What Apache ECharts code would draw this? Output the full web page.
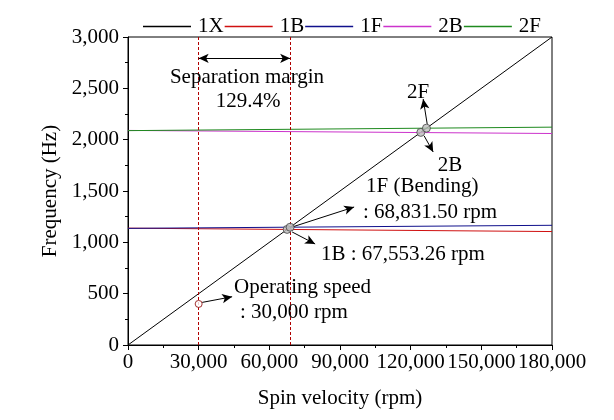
<!DOCTYPE html>
<html><head><meta charset="utf-8">
<script src="https://cdn.jsdelivr.net/npm/echarts@6/dist/echarts.min.js"></script>
<style>html,body{margin:0;padding:0;background:#fff}#c{width:614px;height:420px}</style>
</head><body><div id="c"></div>
<script>
const rpm = [0, 180000];
const s1X = [0, 3000];
const s1B = [1138, 1105];
const s1F = [1136, 1166];
const s2B = [2090, 2060];
const s2F = [2088, 2122];
const seriesNames = ['1X', '1B', '1F', '2B', '2F'];
const seriesColors = ['#000000', '#d01010', '#10108c', '#cc33cc', '#1f8a1f'];
const seriesValues = [s1X, s1B, s1F, s2B, s2F];
const crossPoints = [[67553.26, 1126], [68831.5, 1147], [124300, 2071], [126700, 2112]];
const operatingPoint = [[30000, 400]];
const operatingSpeed = 30000;
const bendingSpeed = 68831.5;
const marginY = 2792;

const FONT = 'Liberation Serif';
const FS = 21;
const fmt = v => Math.round(v).toLocaleString('en-US');

const chart = echarts.init(document.getElementById('c'), null, {renderer: 'canvas'});

const lineSeries = seriesNames.map((n, i) => ({
  name: n, type: 'line', symbol: 'none', silent: true,
  data: rpm.map((x, k) => [x, seriesValues[i][k]]),
  lineStyle: {color: seriesColors[i], width: 1},
  itemStyle: {color: seriesColors[i]},
  z: 2
}));

const arrowStyle = {color: '#000', width: 1, type: 'solid'};
function arrow(a, b) {
  return [{coord: a}, {coord: b}];
}
lineSeries[0].markLine = {
  silent: true, animation: false, label: {show: false},
  symbol: ['none', 'arrow'], symbolSize: [7, 10],
  lineStyle: arrowStyle,
  data: [
    arrow([31500, 415], [44200, 470]),
    arrow([69670, 1149], [96000, 1344]),
    arrow([69670, 1101], [79440, 984]),
    arrow([125740, 2036], [129560, 1880]),
    arrow([127020, 2153], [125310, 2396])
  ]
};
lineSeries[1].markLine = {
  silent: true, animation: false, label: {show: false},
  symbol: ['none', 'none'],
  lineStyle: {color: '#b00000', width: 1, type: [3, 2]},
  data: [{xAxis: operatingSpeed}, {xAxis: bendingSpeed}]
};
lineSeries[2].markLine = {
  silent: true, animation: false, label: {show: false},
  symbol: ['arrow', 'arrow'], symbolSize: [7, 10],
  lineStyle: arrowStyle,
  data: [[{coord: [operatingSpeed, marginY]}, {coord: [bendingSpeed, marginY]}]]
};

const extra = [
  {type: 'scatter', silent: true, data: crossPoints, symbol: 'circle', symbolSize: 8,
   itemStyle: {color: '#bdbdbd', borderColor: '#444', borderWidth: 1}, z: 5},
  {type: 'scatter', silent: true, data: operatingPoint, symbol: 'circle', symbolSize: 7,
   itemStyle: {color: '#fff', borderColor: '#8b0000', borderWidth: 1}, z: 5}
];

function txt(s, x, y, align) {
  return {type: 'text', x: x, y: y, z: 10, silent: true,
    style: {text: s, font: FS + 'px "' + FONT + '"', fill: '#000', align: align || 'left', verticalAlign: 'middle'}};
}

chart.setOption({
  animation: false,
  backgroundColor: '#fff',
  textStyle: {fontFamily: FONT},
  grid: {left: 128, right: 62, top: 37, bottom: 75, show: true, borderColor: '#000', borderWidth: 1},
  legend: {
    data: seriesNames, left: 143, top: 16, padding: 0, itemWidth: 48, itemHeight: 1.5, itemGap: 1,
    icon: 'rect',
    textStyle: {fontFamily: FONT, fontSize: FS, color: '#000', padding: [0, 0, 0, 2]}
  },
  xAxis: {
    type: 'value', min: 0, max: 180000, interval: 30000,
    name: 'Spin velocity (rpm)', nameLocation: 'middle', nameGap: 43,
    nameTextStyle: {fontFamily: FONT, fontSize: FS, color: '#000'},
    axisLine: {lineStyle: {color: '#000', width: 1}},
    axisTick: {show: true, length: 5, lineStyle: {color: '#000'}},
    minorTick: {show: true, splitNumber: 2, length: 3, lineStyle: {color: '#000'}},
    splitLine: {show: false},
    axisLabel: {fontFamily: FONT, fontSize: FS, color: '#000', margin: 7, formatter: fmt}
  },
  yAxis: {
    type: 'value', min: 0, max: 3000, interval: 500,
    name: 'Frequency (Hz)', nameLocation: 'middle', nameGap: 65,
    nameTextStyle: {fontFamily: FONT, fontSize: FS, color: '#000'},
    axisLine: {show: true, lineStyle: {color: '#000', width: 1}},
    axisTick: {show: true, length: 5, lineStyle: {color: '#000'}},
    minorTick: {show: true, splitNumber: 2, length: 3, lineStyle: {color: '#000'}},
    splitLine: {show: false},
    axisLabel: {fontFamily: FONT, fontSize: FS, color: '#000', margin: 9, formatter: fmt}
  },
  series: lineSeries.concat(extra),
  graphic: [
    txt('Separation margin', 247, 77, 'center'),
    txt('129.4%', 248, 101, 'center'),
    txt('2F', 418, 92, 'center'),
    txt('2B', 450, 165, 'center'),
    txt('1F (Bending)', 366, 186),
    txt(': 68,831.50 rpm', 363, 212),
    txt('1B : 67,553.26 rpm', 321, 254),
    txt('Operating speed', 234, 287),
    txt(': 30,000 rpm', 240, 312)
  ]
});
</script></body></html>
